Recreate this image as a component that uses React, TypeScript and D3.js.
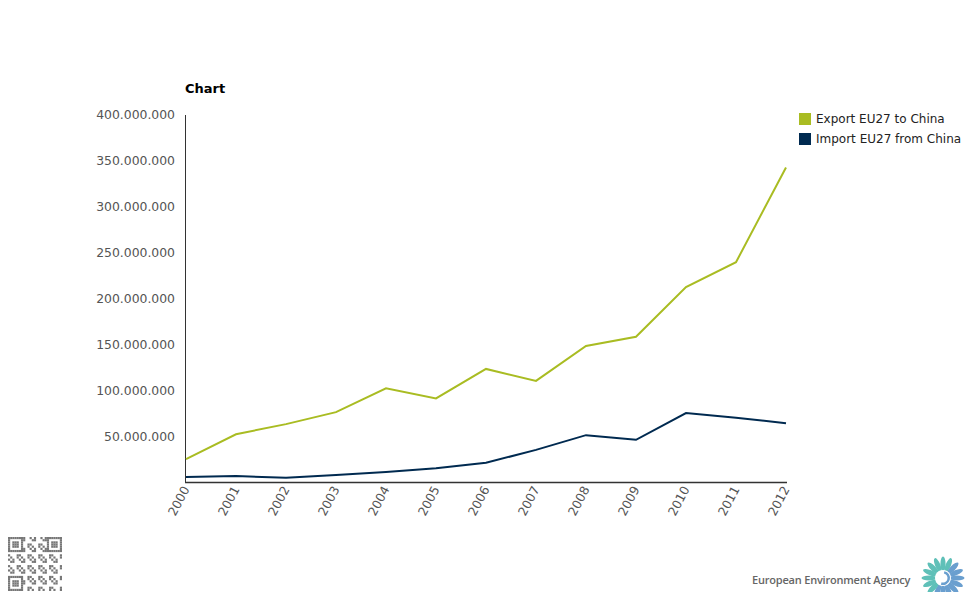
import React, { useRef, useEffect } from 'react';
import * as d3 from 'd3';

const years = ['2000', '2001', '2002', '2003', '2004', '2005', '2006', '2007', '2008', '2009', '2010', '2011', '2012'];
const exportValues = [26, 53, 64, 77, 103, 92, 124, 111, 149, 159, 213, 240, 343].map((v) => v * 1e6);
const importValues = [6.5, 7.6, 5.6, 8.7, 12, 16, 22, 36, 52, 47, 76, 71, 65].map((v) => v * 1e6);
const yTicks = [50e6, 100e6, 150e6, 200e6, 250e6, 300e6, 350e6, 400e6];
const seriesNames = ['Export EU27 to China', 'Import EU27 from China'];
const seriesColors = ['#a9bc22', '#002a50'];

const fmt = (v: number) => d3.format(',')(v).replace(/,/g, '.');

const App: React.FC = () => {
  const svgRef = useRef<SVGSVGElement>(null);
  const width = 975;
  const height = 600;

  useEffect(() => {
    if (!svgRef.current) return;
    const svg = d3.select(svgRef.current);
    svg.selectAll('*').remove();
    svg.attr('font-family', '"DejaVu Sans", Verdana, sans-serif');

    const left = 186;
    const right = 786;
    const top = 115;
    const bottom = 483;

    const x = d3.scalePoint<string>().domain(years).range([left, right]);
    const y = d3.scaleLinear().domain([0, 400e6]).range([bottom, top]);

    // title
    svg.append('text')
      .attr('x', 185)
      .attr('y', 93)
      .attr('font-size', 13)
      .attr('font-weight', 'bold')
      .attr('fill', '#000')
      .text('Chart');

    // y axis labels
    svg.append('g')
      .selectAll('text')
      .data(yTicks)
      .enter()
      .append('text')
      .attr('x', 175)
      .attr('y', (d) => y(d))
      .attr('dy', '0.35em')
      .attr('text-anchor', 'end')
      .attr('font-size', 12.4)
      .attr('fill', '#555')
      .text((d) => fmt(d));

    // axis lines
    svg.append('line')
      .attr('x1', left - 0.5).attr('x2', left - 0.5)
      .attr('y1', top).attr('y2', bottom)
      .attr('stroke', '#333').attr('stroke-width', 1);
    svg.append('line')
      .attr('x1', left - 1).attr('x2', right + 1)
      .attr('y1', bottom - 0.5).attr('y2', bottom - 0.5)
      .attr('stroke', '#333').attr('stroke-width', 1.5);

    // x labels
    svg.append('g')
      .selectAll('text')
      .data(years)
      .enter()
      .append('text')
      .attr('transform', (d) => `translate(${(x(d) as number) + 4},${bottom + 6}) rotate(-62)`)
      .attr('text-anchor', 'end')
      .attr('font-size', 12.4)
      .attr('fill', '#555')
      .text((d) => d);

    // lines
    const line = d3.line<number>()
      .x((_, i) => x(years[i]) as number)
      .y((d) => y(d));

    [exportValues, importValues].forEach((vals, i) => {
      svg.append('path')
        .datum(vals)
        .attr('d', line)
        .attr('fill', 'none')
        .attr('stroke', seriesColors[i])
        .attr('stroke-width', 2);
    });

    // legend
    const legend = svg.append('g')
      .selectAll('g')
      .data(seriesNames)
      .enter()
      .append('g')
      .attr('transform', (_, i) => `translate(799,${113 + i * 20})`);
    legend.append('rect')
      .attr('width', 12)
      .attr('height', 12)
      .attr('fill', (_, i) => seriesColors[i]);
    legend.append('text')
      .attr('x', 17)
      .attr('y', 6)
      .attr('dy', '0.35em')
      .attr('font-size', 12)
      .attr('fill', '#222')
      .text((d) => d);

    // QR-like mark
    const qr = svg.append('g').attr('transform', 'translate(8,537)');
    const n = 25;
    const cell = 54 / n;
    const finder = (r: number, c: number) =>
      (r < 7 && c < 7) || (r < 7 && c >= n - 7) || (r >= n - 7 && c < 7);
    for (let r = 0; r < n; r++) {
      for (let c = 0; c < n; c++) {
        let on: boolean;
        if (finder(r, c)) {
          const rr = r >= n - 7 ? r - (n - 7) : r;
          const cc = c >= n - 7 ? c - (n - 7) : c;
          on = rr === 0 || rr === 6 || cc === 0 || cc === 6 || (rr >= 2 && rr <= 4 && cc >= 2 && cc <= 4);
        } else {
          on = ((r * 7 + c * 13 + r * c) % 5) < 2;
        }
        if (on) {
          qr.append('rect')
            .attr('x', c * cell)
            .attr('y', r * cell)
            .attr('width', cell)
            .attr('height', cell)
            .attr('fill', '#777');
        }
      }
    }

    // EEA logo
    svg.append('text')
      .attr('x', 752)
      .attr('y', 584)
      .attr('font-size', 11)
      .attr('font-family', '"Open Sans", "DejaVu Sans", sans-serif')
      .attr('font-weight', 600)
      .attr('letter-spacing', -0.2)
      .attr('fill', '#666')
      .text('European Environment Agency');

    const logo = svg.append('g').attr('transform', 'translate(943,578)');
    const petals = d3.range(16);
    logo.selectAll('ellipse')
      .data(petals)
      .enter()
      .append('ellipse')
      .attr('cx', 0)
      .attr('cy', -14)
      .attr('rx', 2.6)
      .attr('ry', 7.5)
      .attr('transform', (d) => `rotate(${d * 22.5})`)
      .attr('fill', (d) => (d >= 2 && d <= 9 ? '#6a9fcf' : '#5fc0b8'));
    logo.append('circle').attr('r', 8).attr('fill', '#fff');
    logo.append('path')
      .attr('d', d3.arc()({ innerRadius: 4.5, outerRadius: 7, startAngle: 0.2, endAngle: Math.PI * 1.1 }) as string)
      .attr('fill', '#6a9fcf');
  }, []);

  return (
    <div style={{ margin: -8 }}>
      <svg ref={svgRef} width={width} height={height} style={{ display: 'block' }} />
    </div>
  );
};

export default App;
